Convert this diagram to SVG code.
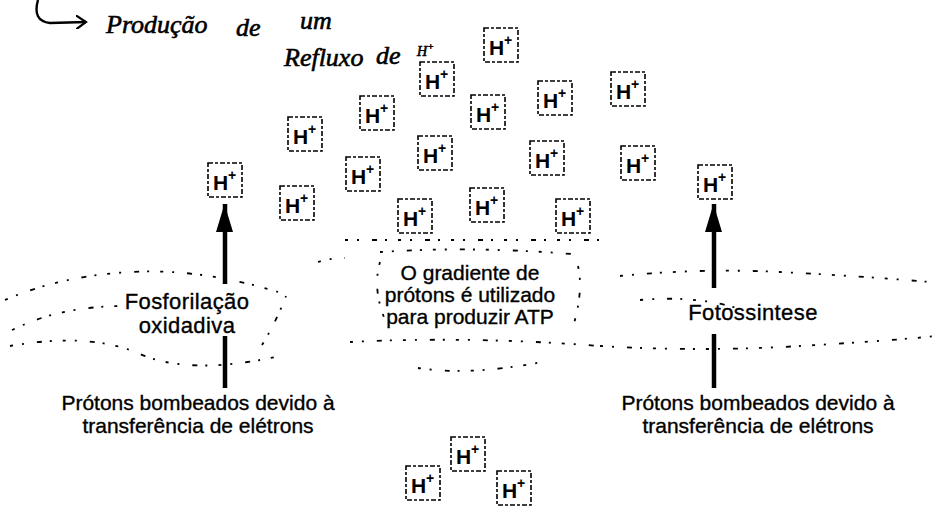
<svg xmlns="http://www.w3.org/2000/svg" width="936" height="507" viewBox="0 0 936 507">
<style>
  .bg{fill:#fff}
  .box{fill:none;stroke:#000;stroke-width:1.6;stroke-dasharray:5 2 3 2}
  .h{font-family:"Liberation Sans",Arial,sans-serif;font-weight:bold;font-size:21px;fill:#000}
  .p{font-family:"Liberation Sans",Arial,sans-serif;font-weight:bold;font-size:14px;fill:#000}
  .lbl{font-family:"Liberation Sans",Arial,sans-serif;font-size:21px;fill:#000;stroke:#000;stroke-width:0.35;text-anchor:middle}
  .big{font-size:22px;letter-spacing:0.4px}
  .hand{font-family:"Liberation Serif","DejaVu Serif",serif;font-style:italic;font-size:26px;fill:#000;stroke:#000;stroke-width:0.6}
  .shaft{stroke:#000;stroke-width:4.5;fill:none}
  .mem{fill:none;stroke:#000;stroke-width:1.8;stroke-dasharray:3 9 2 13 5 8 2 11}
  .curve{fill:none;stroke:#000;stroke-width:2.4}
</style>
<defs>
  <marker id="ah" markerUnits="userSpaceOnUse" markerWidth="30" markerHeight="18" refX="28" refY="9" orient="auto">
    <path d="M0,0 L28,8.5 L0,17 Z" fill="#000"/>
  </marker>
  <marker id="ah2" markerUnits="userSpaceOnUse" markerWidth="12" markerHeight="14" refX="10" refY="7" orient="auto">
    <path d="M0,0 L10,7 L0,14" fill="none" stroke="#000" stroke-width="2.2"/>
  </marker>
</defs>
<rect class="bg" x="0" y="0" width="936" height="507"/>

<g id="membrane">
  <path class="mem" d="M5,300 Q60,276 130,272 T278,292"/>
  <path class="mem" d="M12,330 Q60,306 125,306"/>
  <path class="mem" d="M10,346 Q90,332 140,354 T280,356"/>
  <path class="mem" d="M262,345 Q276,322 286,296"/>
  <path class="mem" d="M345,240 L600,240"/>
  <path class="mem" d="M380,252 Q470,246 572,254"/>
  <path class="mem" d="M380,262 Q372,290 386,322"/>
  <path class="mem" d="M578,266 Q584,292 572,330"/>
  <path class="mem" d="M318,262 Q330,258 345,258"/>
  <path class="mem" d="M350,342 Q470,336 600,346"/>
  <path class="mem" d="M418,368 Q470,376 542,362"/>
  <path class="mem" d="M620,276 Q700,268 780,272 T930,282"/>
  <path class="mem" d="M640,300 Q700,295 742,310"/>
  <path class="mem" d="M600,346 Q700,352 800,346 T936,336"/>
</g>

<g id="handwriting">
  <path class="curve" d="M38,0 Q32,21 50,23 L86,22" marker-end="url(#ah2)"/>
  <text class="hand" x="106" y="33">Produção</text>
  <text class="hand" x="236" y="36">de</text>
  <text class="hand" x="300" y="29">um</text>
  <text class="hand" x="284" y="66">Refluxo</text>
  <text class="hand" x="376" y="64">de</text>
  <text class="hand" x="417" y="56" style="font-size:14px">H<tspan dy="-6" style="font-size:10px">+</tspan></text>
</g>

<g id="connectors">
  <path class="shaft" d="M225,284 L225,204" marker-end="url(#ah)"/>
  <path class="shaft" d="M225,336 L225,388"/>
  <path class="shaft" d="M714,288 L714,204" marker-end="url(#ah)"/>
  <path class="shaft" d="M714,334 L714,388"/>
</g>

<g id="hp1"><rect class="box" x="484" y="28" width="34" height="34"/><text class="h" x="489" y="55">H</text><text class="p" x="504" y="45">+</text></g>
<g id="hp2"><rect class="box" x="420" y="62" width="34" height="34"/><text class="h" x="425" y="89">H</text><text class="p" x="440" y="79">+</text></g>
<g id="hp3"><rect class="box" x="360" y="96" width="34" height="34"/><text class="h" x="365" y="123">H</text><text class="p" x="380" y="113">+</text></g>
<g id="hp4"><rect class="box" x="471" y="95" width="34" height="34"/><text class="h" x="476" y="122">H</text><text class="p" x="491" y="112">+</text></g>
<g id="hp5"><rect class="box" x="538" y="81" width="34" height="34"/><text class="h" x="543" y="108">H</text><text class="p" x="558" y="98">+</text></g>
<g id="hp6"><rect class="box" x="611" y="72" width="34" height="34"/><text class="h" x="616" y="99">H</text><text class="p" x="631" y="89">+</text></g>
<g id="hp7"><rect class="box" x="288" y="117" width="34" height="34"/><text class="h" x="293" y="144">H</text><text class="p" x="308" y="134">+</text></g>
<g id="hp8"><rect class="box" x="418" y="136" width="34" height="34"/><text class="h" x="423" y="163">H</text><text class="p" x="438" y="153">+</text></g>
<g id="hp9"><rect class="box" x="530" y="141" width="34" height="34"/><text class="h" x="535" y="168">H</text><text class="p" x="550" y="158">+</text></g>
<g id="hp10"><rect class="box" x="621" y="146" width="34" height="34"/><text class="h" x="626" y="173">H</text><text class="p" x="641" y="163">+</text></g>
<g id="hp11"><rect class="box" x="208" y="163" width="34" height="34"/><text class="h" x="213" y="190">H</text><text class="p" x="228" y="180">+</text></g>
<g id="hp12"><rect class="box" x="346" y="157" width="34" height="34"/><text class="h" x="351" y="184">H</text><text class="p" x="366" y="174">+</text></g>
<g id="hp13"><rect class="box" x="280" y="186" width="34" height="34"/><text class="h" x="285" y="213">H</text><text class="p" x="300" y="203">+</text></g>
<g id="hp14"><rect class="box" x="398" y="199" width="34" height="34"/><text class="h" x="403" y="226">H</text><text class="p" x="418" y="216">+</text></g>
<g id="hp15"><rect class="box" x="470" y="188" width="34" height="34"/><text class="h" x="475" y="215">H</text><text class="p" x="490" y="205">+</text></g>
<g id="hp16"><rect class="box" x="556" y="199" width="34" height="34"/><text class="h" x="561" y="226">H</text><text class="p" x="576" y="216">+</text></g>
<g id="hp17"><rect class="box" x="698" y="165" width="34" height="34"/><text class="h" x="703" y="192">H</text><text class="p" x="718" y="182">+</text></g>
<g id="hp18"><rect class="box" x="451" y="437" width="34" height="34"/><text class="h" x="456" y="464">H</text><text class="p" x="471" y="454">+</text></g>
<g id="hp19"><rect class="box" x="406" y="466" width="34" height="34"/><text class="h" x="411" y="493">H</text><text class="p" x="426" y="483">+</text></g>
<g id="hp20"><rect class="box" x="497" y="471" width="34" height="34"/><text class="h" x="502" y="498">H</text><text class="p" x="517" y="488">+</text></g>

<g id="fosforilacao">
  <text class="lbl big" x="187" y="309">Fosforilação</text>
  <text class="lbl big" x="187" y="333">oxidadiva</text>
</g>
<g id="gradiente">
  <text class="lbl" x="470" y="280">O gradiente de</text>
  <text class="lbl" x="470" y="302">prótons é utilizado</text>
  <text class="lbl" x="470" y="324">para produzir ATP</text>
</g>
<g id="fotossintese">
  <text class="lbl big" x="753" y="320">Fotossintese</text>
</g>
<g id="pump-left">
  <text class="lbl" x="198" y="410">Prótons bombeados devido à</text>
  <text class="lbl" x="198" y="433">transferência de elétrons</text>
</g>
<g id="pump-right">
  <text class="lbl" x="758" y="410">Prótons bombeados devido à</text>
  <text class="lbl" x="758" y="433">transferência de elétrons</text>
</g>
</svg>
